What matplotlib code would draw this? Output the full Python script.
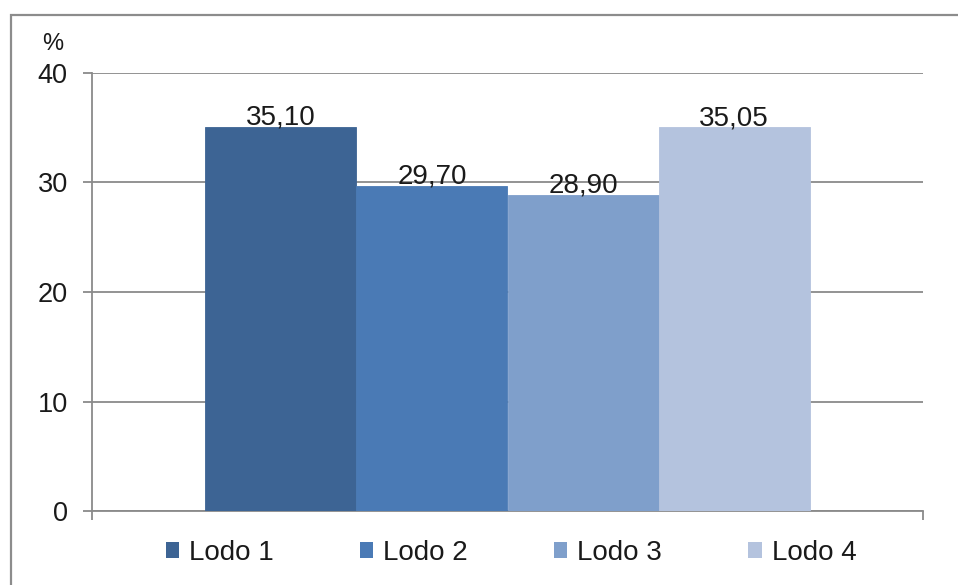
import matplotlib
matplotlib.use("Agg")
import matplotlib.pyplot as plt
from matplotlib.patches import Patch, Rectangle

# Data
series = ["Lodo 1", "Lodo 2", "Lodo 3", "Lodo 4"]
values = [35.10, 29.70, 28.90, 35.05]
colors = ["#3D6494", "#4A7AB5", "#7F9FCB", "#B4C3DE"]
yticks = [0, 10, 20, 30, 40]

plt.rcParams["font.family"] = ["Liberation Sans", "DejaVu Sans"]
text_color = "#1a1a1a"
axis_color = "#8a8a8a"

fig = plt.figure(figsize=(9.58, 5.85), dpi=100)
ax = fig.add_axes([92 / 958, 1 - 511 / 585, (923 - 92) / 958, (511 - 73) / 585])

# Single category, four side-by-side bars
group_width = 0.727
bar_w = group_width / len(series)
start = -group_width / 2 + bar_w / 2
for i, (name, v, c) in enumerate(zip(series, values, colors)):
    x = start + i * bar_w
    ax.bar(x, v, width=bar_w, color=c, edgecolor=c, linewidth=0.6, zorder=3, label=name)
    ax.annotate(f"{v:.2f}".replace(".", ","), xy=(x, v), xytext=(0, 1.5),
                textcoords="offset points", ha="center", va="baseline",
                fontsize=20, color=text_color, zorder=4)

ax.set_xlim(-0.5, 0.5)
ax.set_ylim(0, 40)
ax.set_yticks(yticks)
ax.set_yticklabels([str(t) for t in yticks])
ax.set_xticks([-0.5, 0.5])
ax.set_xticklabels([])

ax.yaxis.grid(True, color=axis_color, linewidth=1.3, zorder=0)
ax.set_axisbelow(True)
for side in ("top", "right"):
    ax.spines[side].set_visible(False)
for side in ("left", "bottom"):
    ax.spines[side].set_color(axis_color)
    ax.spines[side].set_linewidth(1.3)
ax.tick_params(axis="y", length=6.5, width=1.3, color=axis_color, pad=11,
               labelsize=19.5, labelcolor=text_color)
ax.tick_params(axis="x", length=6.5, width=1.3, color=axis_color, direction="out")
for lab in ax.get_yticklabels():
    lab.set_clip_on(False)

# Unit label above the value axis
fig.text(53 / 958, 1 - 44 / 585, "%", fontsize=17, ha="center", va="center",
         color=text_color)

# Legend below the plot
handles = [Patch(facecolor=c, edgecolor="none") for c in colors]
fig.legend(handles, series, loc="center", bbox_to_anchor=(511 / 958, 1 - 553 / 585),
           ncol=4, frameon=False, fontsize=20, handlelength=0.48, handleheight=0.48,
           handletextpad=0.36, columnspacing=3.1, labelcolor=text_color)

# Outer chart frame
fig.patches.append(Rectangle((11 / 958, -0.05), 1.1, 1 - 15 / 585 + 0.05,
                             transform=fig.transFigure, fill=False,
                             edgecolor="#8c8c8c", linewidth=1.6, clip_on=False))

fig.savefig("out.png", dpi=100)
